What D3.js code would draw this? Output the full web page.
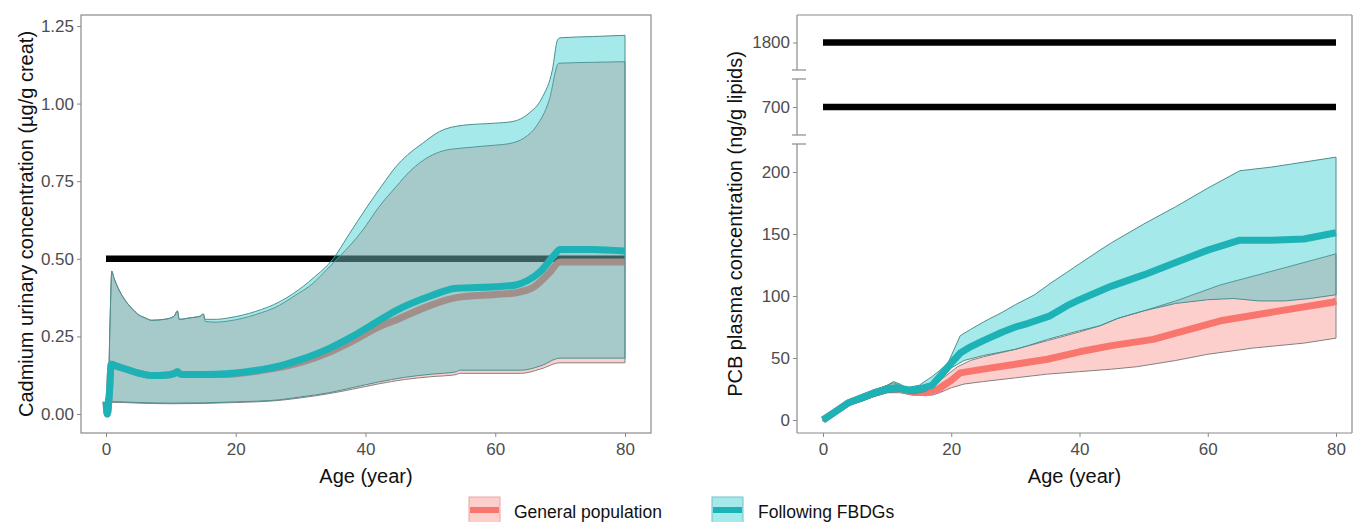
<!DOCTYPE html>
<html><head><meta charset="utf-8">
<script src="https://cdn.jsdelivr.net/npm/d3@7"></script>
<style>body{margin:0;background:#fff;} svg{display:block;font-family:"Liberation Sans",Arial,sans-serif;}</style>
</head><body>
<svg id="chart" width="1354" height="522"></svg>
<script>
// ---------- DATA ----------
const legendLabels = ["General population", "Following FBDGs"];
const cdTicksY = [0, 0.25, 0.5, 0.75, 1.0, 1.25];
const cdTickLabelsY = ["0.00", "0.25", "0.50", "0.75", "1.00", "1.25"];
const ageTicks = [0, 20, 40, 60, 80];
const cdLimit = 0.5;
const pcbLimits = [700, 1800];
const pcbTicksLow = [0, 50, 100, 150, 200];

const cdFbdgUpper = [[0,0.05],[0.3,0.03],[0.6,0.28],[0.9,0.46],[1.2,0.44],[2,0.40],[3,0.365],[4,0.34],[5,0.32],[6,0.31],[7,0.302],[9,0.305],[10.5,0.315],[11,0.332],[11.3,0.305],[13,0.31],[14.5,0.315],[15,0.322],[15.3,0.305],[17,0.305],[19,0.31],[23,0.33],[26.8,0.362],[29,0.39],[31.9,0.437],[35,0.50],[37.5,0.58],[40,0.66],[42.5,0.735],[44.7,0.797],[46.5,0.835],[48.8,0.872],[51.4,0.91],[55,0.93],[60,0.937],[62.6,0.942],[65.2,0.969],[67.3,1.022],[68.8,1.108],[69.6,1.205],[70,1.212],[75,1.216],[80,1.22]];
const cdFbdgLower = [[0,0.0],[0.5,0.0],[0.8,0.04],[5,0.037],[10,0.035],[15,0.036],[20,0.039],[26.8,0.046],[30,0.055],[34.5,0.069],[38,0.085],[42,0.103],[46,0.118],[50,0.128],[54,0.136],[54.5,0.141],[64,0.141],[67,0.155],[70,0.18],[80,0.18]];
const cdFbdgMedian = [[0,0.04],[0.2,0.0],[0.5,0.06],[0.8,0.16],[1.5,0.155],[3,0.145],[5,0.132],[7,0.124],[9,0.125],[10.5,0.13],[11,0.136],[11.5,0.128],[14,0.127],[17,0.128],[20,0.132],[23,0.14],[26.8,0.155],[30,0.175],[34.5,0.212],[38,0.25],[42,0.30],[44.7,0.333],[50,0.38],[54,0.405],[60,0.41],[63,0.415],[65,0.43],[67,0.46],[69,0.51],[70,0.53],[75,0.53],[80,0.525]];
const cdGenUpper = [[0,0.05],[0.3,0.03],[0.6,0.28],[0.9,0.46],[1.2,0.44],[2,0.40],[3,0.365],[4,0.34],[5,0.32],[6,0.31],[7,0.302],[9,0.305],[10.5,0.315],[11,0.332],[11.3,0.305],[13,0.31],[14.5,0.315],[15,0.322],[15.3,0.298],[17,0.296],[19,0.30],[23,0.32],[26.8,0.351],[29,0.38],[31.9,0.421],[34,0.465],[36,0.507],[39.6,0.593],[42,0.665],[44.7,0.732],[47,0.785],[49.8,0.829],[52,0.848],[55,0.857],[60,0.866],[62.6,0.873],[64.5,0.89],[66.3,0.926],[68.3,1.01],[69.8,1.13],[75,1.133],[80,1.135]];
const cdGenLower = [[0,0.0],[0.5,0.0],[0.8,0.038],[5,0.035],[10,0.033],[15,0.034],[20,0.037],[26.8,0.044],[30,0.052],[34.5,0.066],[38,0.08],[42,0.097],[46,0.111],[50,0.12],[54,0.127],[54.5,0.131],[64,0.131],[67,0.145],[70,0.165],[80,0.165]];
const cdGenMedian = [[0,0.04],[0.2,0.0],[0.5,0.06],[0.8,0.16],[1.5,0.155],[3,0.145],[5,0.132],[7,0.124],[9,0.125],[10.5,0.13],[11,0.136],[11.5,0.128],[14,0.127],[17,0.127],[20,0.13],[23,0.137],[26.8,0.15],[30,0.166],[34.5,0.2],[38,0.235],[42,0.28],[44.7,0.303],[50,0.35],[54,0.375],[60,0.385],[63,0.39],[66,0.41],[68.3,0.454],[70,0.49],[80,0.49]];

const pcbFbdgUpper = [[0,1],[2,8],[4,15],[6,19],[8,24],[10,28],[11,31],[12,29],[13,26],[15,28],[17,35],[18.2,40],[19.5,46],[21.4,68],[23,73],[25,79],[28,87],[30,93],[33,101],[35.4,110],[38,119],[40,126],[43.2,137],[45,143],[50,158],[55,172],[60,187],[65,201],[70,204],[75,208],[80,212]];
const pcbFbdgLower = [[0,-1],[2,6],[4,12],[6,15],[8,19],[10,22],[12,23],[14,21],[16,23],[18,30],[20,42],[22,48],[25,52],[30,57],[32,60],[35,65],[40,72],[43.2,76],[46,82],[50,88],[55,94],[60,97],[64,98],[68,96],[72,96],[76,98],[80,101]];
const pcbFbdgMedian = [[0,0],[2,7],[4,14],[6,18],[8,22],[10,25],[11.5,26],[13.6,24],[15,25],[17,28],[18.7,38],[20,46],[21.4,54],[23,59],[25,64],[28,71],[30,75],[32,78],[35.4,84],[38,92],[40,97],[45,108],[50,117],[55,127],[60,137],[65,145],[70,145],[75,146],[80,151]];
const pcbGenUpper = [[0,1],[2,8],[4,15],[6,19],[8,24],[10,28],[11,30],[13,26],[15,26],[17,27],[19,35],[21,43],[23,48],[25,51],[30,57],[35,64],[40,71],[43.2,76],[46,82],[50,88],[55,96],[62,109],[70,120],[80,134]];
const pcbGenLower = [[0,-1],[2,6],[4,12],[6,15],[8,19],[10,22],[12,22],[14,20],[17,20],[18.2,22],[20,26],[22,29],[25,31],[30,34],[35,37],[40,39],[45,41],[49,43],[55,48],[60,53],[67,58],[75,62],[80,66]];
const pcbGenMedian = [[0,0],[2,7],[4,14],[6,18],[8,22],[10,25],[11.5,26],[13.6,23],[16,22],[18,25],[20,32],[21.4,38],[25,41],[30,45],[35,49],[40,55],[45,60],[51.5,65],[55,70],[62,80],[70,87],[79.5,95],[80,96]];

// ---------- STYLE ----------
const genFill = "rgba(248,118,109,0.35)", fbFill = "rgba(0,191,196,0.35)";
const genLine = "#F8766D", fbLine = "#1DB3B6";
const genEdge = "#858080", fbEdge = "#4E8E8E";
const axisGrey = "#4D4D4D", frameGrey = "#8a8a8a";

const svg = d3.select("#chart");

function drawPanel(opt) {
  const g = svg.append("g");
  const {x, y, left, right, top, bottom} = opt;
  const line = d3.line().x(d => x(d[0])).y(d => y(d[1])).curve(opt.curve);
  opt.limits.forEach(v => {
    g.append("line").attr("x1", x(0)).attr("x2", x(80)).attr("y1", opt.yFor(v)).attr("y2", opt.yFor(v))
      .attr("stroke", "#000").attr("stroke-width", 6.5);
  });
  const ribbon = (up, lo, fill, edge) => g.append("path")
    .attr("d", line(up) + "L" + line(lo.slice().reverse()).slice(1) + "Z")
    .attr("fill", fill).attr("stroke", edge).attr("stroke-width", 1);
  const med = (m, col) => g.append("path").attr("d", line(m)).attr("fill", "none")
    .attr("stroke", col).attr("stroke-width", 7).attr("stroke-linejoin", "round");
  ribbon(opt.genUp, opt.genLo, genFill, genEdge);
  med(opt.genMed, genLine);
  ribbon(opt.fbUp, opt.fbLo, fbFill, fbEdge);
  med(opt.fbMed, fbLine);
  const xa = g.append("g").attr("transform", `translate(0,${bottom})`)
    .call(d3.axisBottom(x).tickValues(ageTicks).tickSize(4).tickPadding(3));
  xa.select(".domain").remove();
  xa.selectAll("line").attr("stroke", frameGrey);
  xa.selectAll("text").attr("fill", axisGrey).style("font-size", "17px").attr("dy", "0.9em");
  g.append("text").attr("x", (left + right) / 2).attr("y", 483).attr("text-anchor", "middle")
    .style("font-size", "20px").attr("fill", "#111").text("Age (year)");
  return g;
}

// ---------- LEFT PANEL ----------
const L = {left: 81, right: 651, top: 15, bottom: 433};
const xL = d3.scaleLinear().domain([0, 80]).range([106, 625]);
const yL = d3.scaleLinear().domain([0, 1.25]).range([414, 26]);
const gL = drawPanel({x: xL, y: yL, ...L, limits: [cdLimit], yFor: yL, curve: d3.curveMonotoneX,
  genUp: cdGenUpper, genLo: cdGenLower, genMed: cdGenMedian,
  fbUp: cdFbdgUpper, fbLo: cdFbdgLower, fbMed: cdFbdgMedian});
gL.append("rect").attr("x", L.left).attr("y", L.top).attr("width", L.right - L.left).attr("height", L.bottom - L.top)
  .attr("fill", "none").attr("stroke", frameGrey).attr("stroke-width", 1.2);
const ya = gL.append("g").attr("transform", `translate(${L.left},0)`)
  .call(d3.axisLeft(yL).tickValues(cdTicksY).tickFormat((d, i) => cdTickLabelsY[i]).tickSize(4).tickPadding(3));
ya.select(".domain").remove();
ya.selectAll("line").attr("stroke", frameGrey);
ya.selectAll("text").attr("fill", axisGrey).style("font-size", "17px");
gL.append("text").attr("transform", `translate(33,${(L.top + L.bottom) / 2}) rotate(-90)`)
  .attr("text-anchor", "middle").style("font-size", "20px").attr("fill", "#111")
  .text("Cadmium urinary concentration (µg/g creat)");

// ---------- RIGHT PANEL ----------
const R = {left: 797, right: 1352, top: 15, bottom: 433};
const xR = d3.scaleLinear().domain([0, 80]).range([823, 1336]);
const yLow = d3.scaleLinear().domain([0, 200]).range([420, 172]);
const yMid = d3.scaleLinear().domain([650, 750]).range([135, 79]);
const yHigh = d3.scaleLinear().domain([1750, 1850]).range([70, 15]);
const yFor = v => v >= 1700 ? yHigh(v) : (v >= 600 ? yMid(v) : yLow(v));
const gR = drawPanel({x: xR, y: yLow, ...R, limits: pcbLimits, yFor, curve: d3.curveLinear,
  genUp: pcbGenUpper, genLo: pcbGenLower, genMed: pcbGenMedian,
  fbUp: pcbFbdgUpper, fbLo: pcbFbdgLower, fbMed: pcbFbdgMedian});
[[R.left, R.top, R.right, R.top], [R.right, R.top, R.right, R.bottom], [R.left, R.bottom, R.right, R.bottom],
 [R.left, R.top, R.left, 70], [R.left, 79, R.left, 135], [R.left, 144, R.left, R.bottom]].forEach(s => {
  gR.append("line").attr("x1", s[0]).attr("y1", s[1]).attr("x2", s[2]).attr("y2", s[3])
    .attr("stroke", frameGrey).attr("stroke-width", 1.2);
});
[70, 79, 135, 144].forEach(yy => {
  gR.append("line").attr("x1", R.left - 5).attr("x2", R.left + 9).attr("y1", yy).attr("y2", yy)
    .attr("stroke", frameGrey).attr("stroke-width", 1.2);
});
function yAxisPart(scale, vals) {
  const a = gR.append("g").attr("transform", `translate(${R.left},0)`)
    .call(d3.axisLeft(scale).tickValues(vals).tickFormat(d3.format("d")).tickSize(4).tickPadding(3));
  a.select(".domain").remove();
  a.selectAll("line").attr("stroke", frameGrey);
  a.selectAll("text").attr("fill", axisGrey).style("font-size", "17px");
}
yAxisPart(yLow, pcbTicksLow);
yAxisPart(yMid, [pcbLimits[0]]);
yAxisPart(yHigh, [pcbLimits[1]]);
gR.append("text").attr("transform", `translate(742,${(R.top + R.bottom) / 2}) rotate(-90)`)
  .attr("text-anchor", "middle").style("font-size", "20px").attr("fill", "#111")
  .text("PCB plasma concentration (ng/g lipids)");

// ---------- LEGEND ----------
const legend = svg.append("g");
const keys = [{x: 469, tx: 514, fill: genFill, edge: "#E7A7A3", line: genLine},
              {x: 712, tx: 758, fill: fbFill, edge: "#6FC6C8", line: fbLine}];
keys.forEach((k, i) => {
  legend.append("rect").attr("x", k.x).attr("y", 497).attr("width", 31).attr("height", 27)
    .attr("fill", k.fill).attr("stroke", k.edge).attr("stroke-width", 1);
  legend.append("line").attr("x1", k.x + 1).attr("x2", k.x + 30).attr("y1", 510).attr("y2", 510)
    .attr("stroke", k.line).attr("stroke-width", 6);
  legend.append("text").attr("x", k.tx).attr("y", 518).style("font-size", "17.5px").attr("fill", "#111")
    .text(legendLabels[i]);
});
</script>
</body></html>
